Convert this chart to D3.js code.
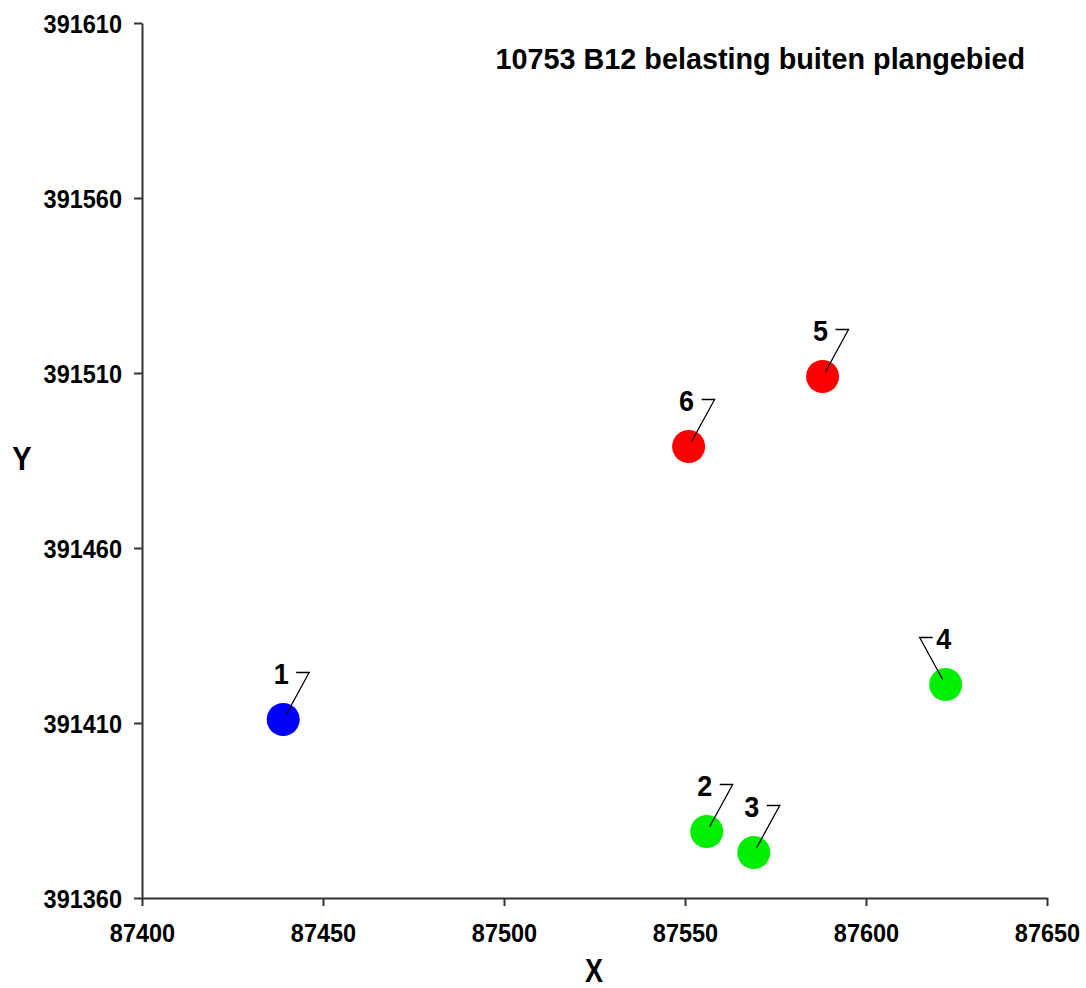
<!DOCTYPE html>
<html><head><meta charset="utf-8">
<script src="https://cdn.jsdelivr.net/npm/d3@7/dist/d3.min.js"></script>
<style>body{margin:0;background:#fff}svg{display:block}text{font-family:"Liberation Sans",Arial,sans-serif;font-weight:bold;fill:#000}</style>
</head><body><div id="chart"></div>
<script>
const pointIds = ["1","2","3","4","5","6"];
const xValues = [87439, 87556, 87569, 87622, 87588, 87551];
const yValues = [391411, 391379, 391373, 391421, 391509, 391489];
const pointColors = ["#0000ff","#00ee00","#00ee00","#00ee00","#ff0000","#ff0000"];
const labelSide = ["right","right","right","left","right","right"];
const xTicks = [87400, 87450, 87500, 87550, 87600, 87650];
const yTicks = [391360, 391410, 391460, 391510, 391560, 391610];
const title = "10753 B12 belasting buiten plangebied";

const W = 1086, H = 988;
const svg = d3.select("#chart").append("svg").attr("width", W).attr("height", H);
const x = d3.scaleLinear().domain([87400, 87650]).range([142, 1047]);
const y = d3.scaleLinear().domain([391360, 391610]).range([898, 23]);

// place text at (tx,ty) baseline with a vertical stretch k
function placed(sel, tx, ty, k) {
  return sel.attr("x", 0).attr("y", 0).attr("dy", null)
    .attr("transform", (d, i, n) => `translate(${typeof tx === "function" ? tx(d, i, n) : tx},${typeof ty === "function" ? ty(d, i, n) : ty}) scale(1,${k})`);
}

const xAxis = svg.append("g").attr("transform", "translate(0,898)")
  .call(d3.axisBottom(x).tickValues(xTicks).tickFormat(d3.format("d")).tickSize(8).tickSizeOuter(0));
const yAxis = svg.append("g").attr("transform", "translate(142,0)")
  .call(d3.axisLeft(y).tickValues(yTicks).tickFormat(d3.format("d")).tickSize(8).tickSizeOuter(0));
[xAxis, yAxis].forEach(g => {
  g.select(".domain").attr("stroke", "#333").attr("stroke-width", 2);
  g.selectAll(".tick line").attr("stroke", "#333").attr("stroke-width", 2);
  g.selectAll(".tick text").style("font-size", "23.5px").style("font-family", "'Liberation Sans',Arial,sans-serif").style("font-weight", "bold").attr("fill", "#000");
});
placed(xAxis.selectAll(".tick text"), 0, 44, 1.13);
placed(yAxis.selectAll(".tick text"), -20, 9, 1.13);

placed(svg.append("text").attr("text-anchor", "end").style("font-size", "28.8px").text(title), 1025, 69, 1.05);
placed(svg.append("text").attr("text-anchor", "middle").style("font-size", "27px").text("X"), 594, 982, 1.22);
placed(svg.append("text").attr("text-anchor", "middle").style("font-size", "29px").text("Y"), 22, 470, 1.15);

const data = pointIds.map((id, i) => ({id, x: xValues[i], y: yValues[i], c: pointColors[i], side: labelSide[i]}));
const g = svg.append("g");
g.selectAll("circle").data(data).join("circle")
  .attr("cx", d => x(d.x)).attr("cy", d => y(d.y)).attr("r", 16.5).attr("fill", d => d.c);
g.selectAll("path.leader").data(data).join("path").attr("class", "leader")
  .attr("fill", "none").attr("stroke", "#000").attr("stroke-width", 1.3)
  .attr("d", d => {
    const cx = x(d.x), cy = y(d.y), s = d.side === "left" ? -1 : 1;
    return `M${cx + 3*s},${cy - 5} L${cx + 26*s},${cy - 47} L${cx + 13*s},${cy - 47}`;
  });
placed(g.selectAll("text.lbl").data(data).join("text").attr("class", "lbl")
  .attr("text-anchor", "middle").style("font-size", "27px").text(d => d.id),
  d => x(d.x) - 2, d => y(d.y) - 36, 1.12);
</script></body></html>
